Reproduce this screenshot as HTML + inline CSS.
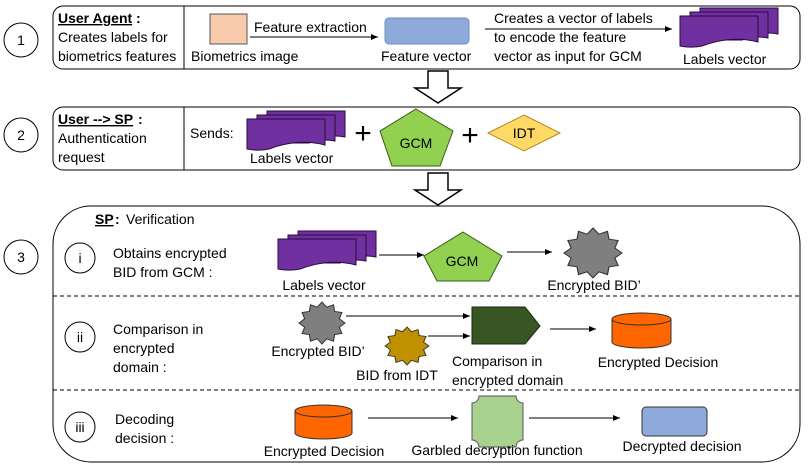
<!DOCTYPE html>
<html><head><meta charset="utf-8"><style>
html,body{margin:0;padding:0;background:#fff}
svg{display:block}
text{font-family:"Liberation Sans",sans-serif;font-size:14px;fill:#000}
</style></head><body>
<svg width="809" height="468" viewBox="0 0 809 468" xmlns="http://www.w3.org/2000/svg">
<defs>
<marker id="ar" markerWidth="8" markerHeight="8" refX="7" refY="4" orient="auto" markerUnits="userSpaceOnUse">
<path d="M0,1 L7,4 L0,7 Z" fill="#000"/></marker>
<g id="lv">
<path d="M20,0 H98 V26 C88,24 80,25 72,28 H20 Z" fill="#7030a0" stroke="#2a0a40" stroke-width="1"/>
<path d="M10,4 H88 V30 C78,28 70,29 62,32 H10 Z" fill="#7030a0" stroke="#2a0a40" stroke-width="1"/>
<path d="M0,8 H78 V34 C60,29 40,31 22,38 C12,40 5,39 0,38 Z" fill="#7030a0" stroke="#2a0a40" stroke-width="1"/>
</g>
<polygon id="star" points="0,-1 .202,-.753 .5,-.866 .551,-.551 .866,-.5 .753,-.202 1,0 .753,.202 .866,.5 .551,.551 .5,.866 .202,.753 0,1 -.202,.753 -.5,.866 -.551,.551 -.866,.5 -.753,.202 -1,0 -.753,-.202 -.866,-.5 -.551,-.551 -.5,-.866 -.202,-.753"/>
</defs>

<!-- Row 1 -->
<circle cx="21" cy="40" r="17" fill="#fff" stroke="#000"/>
<text x="21" y="45" text-anchor="middle">1</text>
<rect x="53" y="6" width="747" height="63" rx="10" fill="#fff" stroke="#000"/>
<line x1="184" y1="6" x2="184" y2="69" stroke="#000"/>
<text x="58" y="23" font-weight="bold" text-decoration="underline">User Agent</text><text x="136" y="23" font-weight="bold">:</text>
<text x="58" y="42">Creates labels for</text>
<text x="58" y="61">biometrics features</text>
<rect x="210" y="14" width="37" height="30" fill="#f8cbad" stroke="#555"/>
<text x="191" y="61">Biometrics image</text>
<line x1="250" y1="37" x2="378" y2="37" stroke="#000" marker-end="url(#ar)"/>
<text x="254" y="32">Feature extraction</text>
<rect x="385" y="18" width="84" height="26" rx="4" fill="#8eaadb" stroke="#6a8cc0"/>
<text x="381" y="61">Feature vector</text>
<line x1="485" y1="29" x2="672" y2="29" stroke="#000" marker-end="url(#ar)"/>
<text x="494" y="23">Creates a vector of labels</text>
<text x="494" y="42">to encode the feature</text>
<text x="494" y="61">vector as input for GCM</text>
<use href="#lv" x="680" y="8"/>
<text x="683" y="64">Labels vector</text>

<polygon points="428,71 448,71 448,88 461,88 438,103 415,88 428,88" fill="#fff" stroke="#000" stroke-width="1.5"/>

<!-- Row 2 -->
<circle cx="21" cy="135" r="17" fill="#fff" stroke="#000"/>
<text x="21" y="140" text-anchor="middle">2</text>
<rect x="53" y="107" width="747" height="63" rx="10" fill="#fff" stroke="#000"/>
<line x1="184" y1="107" x2="184" y2="170" stroke="#000"/>
<text x="58" y="124" font-weight="bold" text-decoration="underline">User --&gt; SP</text><text x="138" y="124" font-weight="bold"> :</text>
<text x="58" y="143">Authentication</text>
<text x="58" y="162">request</text>
<text x="190" y="138">Sends:</text>
<use href="#lv" x="247" y="111"/>
<text x="250" y="163">Labels vector</text>
<text x="363" y="143" style="font-size:30px" text-anchor="middle">+</text>
<polygon points="416,109 453,131 440,166 392,166 380,131" fill="#92d050" stroke="#3a5a1a"/>
<text x="416" y="148" text-anchor="middle">GCM</text>
<text x="470" y="145" style="font-size:30px" text-anchor="middle">+</text>
<polygon points="524,115 560,133 524,151 488,133" fill="#ffd966" stroke="#b08a20"/>
<text x="524" y="138" text-anchor="middle">IDT</text>

<polygon points="428,173 448,173 448,190 461,190 438,205 415,190 428,190" fill="#fff" stroke="#000" stroke-width="1.5"/>

<!-- Row 3 -->
<circle cx="21" cy="257" r="17" fill="#fff" stroke="#000"/>
<text x="21" y="262" text-anchor="middle">3</text>
<rect x="53" y="206" width="747" height="256" rx="38" fill="#fff" stroke="#000"/>
<text x="95" y="224" font-weight="bold" text-decoration="underline">SP</text><text x="115" y="224" font-weight="bold"> :</text><text x="126" y="224"> Verification</text>
<line x1="53" y1="296" x2="800" y2="296" stroke="#000" stroke-dasharray="4,3"/>
<line x1="53" y1="390" x2="800" y2="390" stroke="#000" stroke-dasharray="4,3"/>

<!-- i -->
<circle cx="80" cy="258" r="15" fill="#fff" stroke="#000"/>
<text x="80" y="263" text-anchor="middle">i</text>
<text x="113" y="258">Obtains encrypted</text>
<text x="113" y="277">BID from GCM :</text>
<use href="#lv" x="278" y="231"/>
<text x="324" y="290" text-anchor="middle">Labels vector</text>
<line x1="379" y1="255" x2="424" y2="255" stroke="#000" marker-end="url(#ar)"/>
<polygon points="463,232 502,256 489,281 437,281 424,256" fill="#92d050" stroke="#3a5a1a"/>
<text x="462" y="266" text-anchor="middle">GCM</text>
<line x1="507" y1="252" x2="552" y2="252" stroke="#000" marker-end="url(#ar)"/>
<use href="#star" transform="translate(593,253) scale(29,25)" fill="#7f7f7f" stroke="#333" stroke-width="0.04"/>
<text x="594" y="290" text-anchor="middle">Encrypted BID’</text>

<!-- ii -->
<circle cx="80" cy="337" r="15" fill="#fff" stroke="#000"/>
<text x="80" y="342" text-anchor="middle">ii</text>
<text x="113" y="334">Comparison in</text>
<text x="113" y="353">encrypted</text>
<text x="113" y="372">domain :</text>
<use href="#star" transform="translate(322,323) scale(23,21)" fill="#7f7f7f" stroke="#333" stroke-width="0.045"/>
<text x="318" y="356" text-anchor="middle">Encrypted BID’</text>
<use href="#star" transform="translate(407,346) scale(22,19)" fill="#bf9000" stroke="#333" stroke-width="0.045"/>
<text x="397" y="380" text-anchor="middle">BID from IDT</text>
<line x1="346" y1="316" x2="470" y2="316" stroke="#000" marker-end="url(#ar)"/>
<line x1="428" y1="336" x2="470" y2="336" stroke="#000" marker-end="url(#ar)"/>
<polygon points="472,307 525,307 540,326 525,344 472,344" fill="#375623" stroke="#1a2a10"/>
<text x="452" y="366">Comparison in</text>
<text x="452" y="385">encrypted domain</text>
<line x1="550" y1="329" x2="596" y2="329" stroke="#000" marker-end="url(#ar)"/>
<path d="M612,319 V342 A29.5,6 0 0 0 671,342 V319" fill="#ff6600" stroke="#333"/>
<ellipse cx="641.5" cy="319" rx="29.5" ry="6" fill="#ff6600" stroke="#333"/>
<text x="658" y="367" text-anchor="middle">Encrypted Decision</text>

<!-- iii -->
<circle cx="80" cy="427" r="15" fill="#fff" stroke="#000"/>
<text x="80" y="432" text-anchor="middle">iii</text>
<text x="115" y="424">Decoding</text>
<text x="115" y="443">decision :</text>
<path d="M295,411 V433 A28.5,6 0 0 0 352,433 V411" fill="#ff6600" stroke="#333"/>
<ellipse cx="323.5" cy="411" rx="28.5" ry="6" fill="#ff6600" stroke="#333"/>
<text x="324" y="456" text-anchor="middle">Encrypted Decision</text>
<line x1="368" y1="418" x2="458" y2="418" stroke="#000" marker-end="url(#ar)"/>
<path d="M479,396 H516 A7,7 0 0 0 523,403 V440 A7,7 0 0 0 516,447 H479 A7,7 0 0 0 472,440 V403 A7,7 0 0 0 479,396 Z" fill="#a9d18e" stroke="#555"/>
<text x="497" y="455" text-anchor="middle">Garbled decryption function</text>
<line x1="529" y1="418" x2="620" y2="418" stroke="#000" marker-end="url(#ar)"/>
<rect x="642" y="407" width="65" height="29" rx="4" fill="#8eaadb" stroke="#333"/>
<text x="682" y="451" text-anchor="middle">Decrypted decision</text>
</svg>
</body></html>
